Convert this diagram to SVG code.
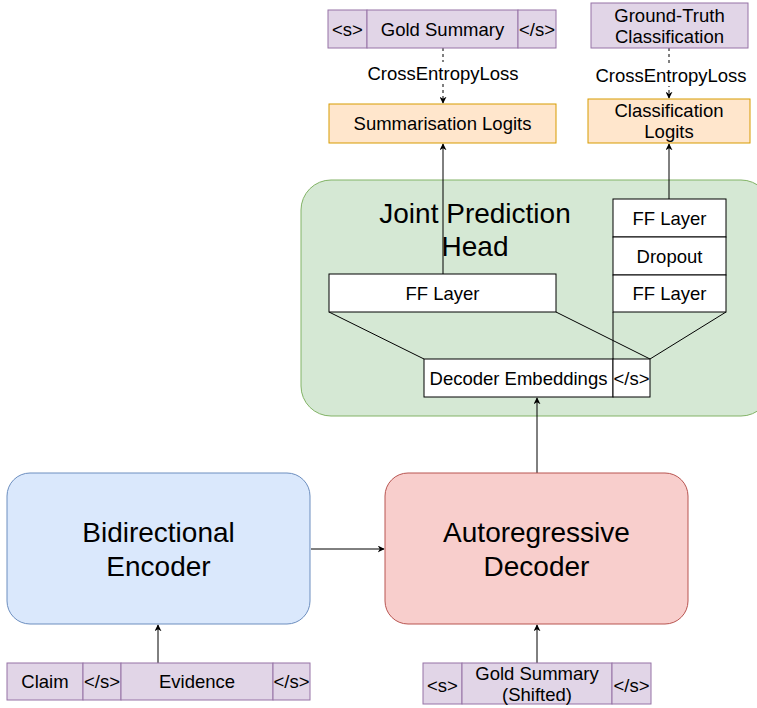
<svg xmlns="http://www.w3.org/2000/svg" width="757" height="708" viewBox="0 0 757 708">
<defs>
<marker id="arr" viewBox="0 0 10 10" refX="9" refY="5" markerWidth="7" markerHeight="7" markerUnits="userSpaceOnUse" orient="auto">
<path d="M0,0 L10,5 L0,10 L3,5 Z" fill="#000"/>
</marker>
<style>
text{font-family:"Liberation Sans",Arial,sans-serif;fill:#000;text-anchor:middle;dominant-baseline:central}
.s{font-size:18.5px}
.b{font-size:28px}
.h{font-size:28px}
.pu{fill:#e1d5e7;stroke:#9673a6;stroke-width:1}
.or{fill:#ffe6cc;stroke:#d79b00;stroke-width:1}
.wh{fill:#fff;stroke:#000;stroke-width:1}
.ln{fill:none;stroke:#000;stroke-width:1}
.dash{fill:none;stroke:#000;stroke-width:1;stroke-dasharray:3 3}
</style>
</defs>
<rect width="757" height="708" fill="#fff"/>

<g id="joint-head">
<rect x="301" y="180" width="470" height="236" rx="30" fill="#d5e8d4" stroke="#82b366"/>
<text class="h" x="475" y="213">Joint Prediction</text>
<text class="h" x="475" y="246">Head</text>
</g>

<g id="connectors">
<line class="ln" x1="443" y1="274" x2="443" y2="144" marker-end="url(#arr)"/>
<line class="ln" x1="669" y1="199" x2="669" y2="144" marker-end="url(#arr)"/>
<line class="dash" x1="443" y1="48" x2="443" y2="103" marker-end="url(#arr)"/>
<line class="dash" x1="669" y1="48" x2="669" y2="98" marker-end="url(#arr)"/>
<line class="ln" x1="537" y1="473" x2="537" y2="398" marker-end="url(#arr)"/>
<line class="ln" x1="311" y1="549" x2="384" y2="549" marker-end="url(#arr)"/>
<line class="ln" x1="158" y1="663" x2="158" y2="625" marker-end="url(#arr)"/>
<line class="ln" x1="537" y1="663" x2="537" y2="625" marker-end="url(#arr)"/>
<line class="ln" x1="329" y1="312" x2="424" y2="359"/>
<line class="ln" x1="556" y1="312" x2="650" y2="359"/>
<line class="ln" x1="726" y1="312" x2="650" y2="359"/>
<line class="ln" x1="613" y1="312" x2="613" y2="359"/>
<rect x="364" y="62" width="158" height="22" fill="#fff"/>
<text class="s" x="443" y="73">CrossEntropyLoss</text>
<rect x="592" y="64" width="157" height="22" fill="#fff"/>
<text class="s" x="671" y="75">CrossEntropyLoss</text>
</g>

<g id="gold-summary-top">
<rect class="pu" x="328" y="10" width="39" height="38"/>
<rect class="pu" x="367" y="10" width="151" height="38"/>
<rect class="pu" x="518" y="10" width="38" height="38"/>
<text class="s" x="347.5" y="29">&lt;s&gt;</text>
<text class="s" x="442.5" y="29">Gold Summary</text>
<text class="s" x="537" y="29">&lt;/s&gt;</text>
</g>

<g id="ground-truth">
<rect class="pu" x="591" y="3" width="157" height="45"/>
<text class="s" x="669.5" y="15">Ground-Truth</text>
<text class="s" x="669.5" y="36">Classification</text>
</g>

<g id="summ-logits">
<rect class="or" x="329" y="104" width="227" height="39"/>
<text class="s" x="442.5" y="123.5">Summarisation Logits</text>
</g>

<g id="class-logits">
<rect class="or" x="588" y="99" width="162" height="44"/>
<text class="s" x="669" y="110">Classification</text>
<text class="s" x="669" y="131">Logits</text>
</g>

<g id="ff-left">
<rect class="wh" x="329" y="274" width="227" height="38"/>
<text class="s" x="442.5" y="293">FF Layer</text>
</g>

<g id="ff-stack">
<rect class="wh" x="613" y="199" width="113" height="38"/>
<text class="s" x="669.5" y="218">FF Layer</text>
<rect class="wh" x="613" y="237" width="113" height="38"/>
<text class="s" x="669.5" y="256">Dropout</text>
<rect class="wh" x="613" y="275" width="113" height="37"/>
<text class="s" x="669.5" y="293.5">FF Layer</text>
</g>

<g id="decoder-embeddings">
<rect class="wh" x="424" y="359" width="189" height="38"/>
<rect class="wh" x="613" y="359" width="37" height="38"/>
<text class="s" x="518.5" y="378">Decoder Embeddings</text>
<text class="s" x="631.5" y="378">&lt;/s&gt;</text>
</g>

<g id="encoder">
<rect x="7" y="473" width="303" height="151" rx="23" fill="#dae8fc" stroke="#6c8ebf"/>
<text class="b" x="158.5" y="532">Bidirectional</text>
<text class="b" x="158.5" y="566">Encoder</text>
</g>

<g id="decoder">
<rect x="385" y="473" width="303" height="151" rx="23" fill="#f8cecc" stroke="#b85450"/>
<text class="b" x="536.5" y="532">Autoregressive</text>
<text class="b" x="536.5" y="566">Decoder</text>
</g>

<g id="encoder-input">
<rect class="pu" x="7" y="663" width="76" height="37"/>
<rect class="pu" x="83" y="663" width="38" height="37"/>
<rect class="pu" x="121" y="663" width="152" height="37"/>
<rect class="pu" x="273" y="663" width="37" height="37"/>
<text class="s" x="45" y="681.5">Claim</text>
<text class="s" x="102" y="681.5">&lt;/s&gt;</text>
<text class="s" x="197" y="681.5">Evidence</text>
<text class="s" x="291.5" y="681.5">&lt;/s&gt;</text>
</g>

<g id="decoder-input">
<rect class="pu" x="423" y="663" width="39" height="41"/>
<rect class="pu" x="462" y="663" width="150" height="41"/>
<rect class="pu" x="612" y="663" width="39" height="41"/>
<text class="s" x="442.5" y="685">&lt;s&gt;</text>
<text class="s" x="537" y="673">Gold Summary</text>
<text class="s" x="537" y="694">(Shifted)</text>
<text class="s" x="631.5" y="685">&lt;/s&gt;</text>
</g>
</svg>
